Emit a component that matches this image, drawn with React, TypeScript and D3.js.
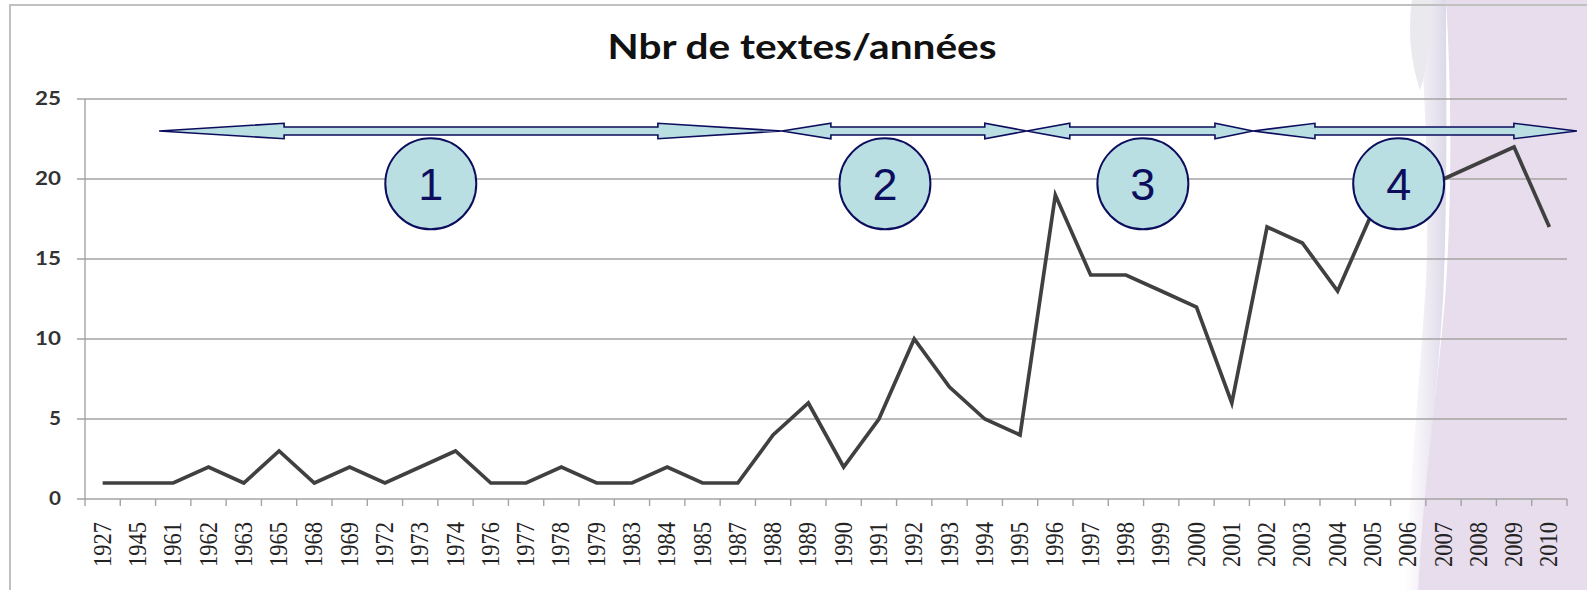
import React from 'react';
import { scaleBand, scaleLinear, line } from 'd3';

const years = [
	'1927', '1945', '1961', '1962', '1963', '1965', '1968', '1969', '1972', '1973',
	'1974', '1976', '1977', '1978', '1979', '1983', '1984', '1985', '1987', '1988',
	'1989', '1990', '1991', '1992', '1993', '1994', '1995', '1996', '1997', '1998',
	'1999', '2000', '2001', '2002', '2003', '2004', '2005', '2006', '2007', '2008',
	'2009', '2010',
];
const counts = [
	1, 1, 1, 2, 1, 3, 1, 2, 1, 2,
	3, 1, 1, 2, 1, 1, 2, 1, 1, 4,
	6, 2, 5, 10, 7, 5, 4, 19, 14, 14,
	13, 12, 6, 17, 16, 13, 18, 19, 20, 21,
	22, 17,
];
const yTicks = [0, 5, 10, 15, 20, 25];

// périodes annotées (en unités de catégorie)
const periodLabels = ['1', '2', '3', '4'];
const periodStart = [2.1, 19.75, 26.69, 33.1];
const periodEnd = [19.75, 26.69, 33.1, 42.28];
const badgeAt = [9.8, 22.67, 29.98, 37.23];
const arrowLevel = 23;
const badgeLevel = 19.7;

const W = 1587;
const H = 590;
const M = { left: 85, right: 20, top: 99, bottom: 91 };
const HEADS = [[125, 124], [49, 42], [43, 38], [62, 63]];
const NAVY = '#0d0d5e';
const BADGE = '#b9dfe3';

function arrowPath(x0: number, x1: number, yc: number, h0: number, h1: number) {
	const w = 7.7;
	const s = 4;
	return [
		`M${x0},${yc}`,
		`L${x0 + h0},${yc - w}`,
		`L${x0 + h0},${yc - s}`,
		`L${x1 - h1},${yc - s}`,
		`L${x1 - h1},${yc - w}`,
		`L${x1},${yc}`,
		`L${x1 - h1},${yc + w}`,
		`L${x1 - h1},${yc + s}`,
		`L${x0 + h0},${yc + s}`,
		`L${x0 + h0},${yc + w}`,
		'Z',
	].join(' ');
}

export default function App() {
	const x = scaleBand<string>().domain(years).range([M.left, W - M.right]).padding(0);
	const idx = scaleLinear().domain([0, years.length]).range([M.left, W - M.right]);
	const y = scaleLinear().domain([0, 25]).range([H - M.bottom, M.top]);
	const cx = (yr: string) => (x(yr) as number) + x.bandwidth() / 2;

	const pts = years.map((yr, i) => ({ yr, v: counts[i] }));
	const linePath = line<{ yr: string; v: number }>()
		.x((d) => cx(d.yr))
		.y((d) => y(d.v))(pts);

	const y0 = y(0);

	return (
		<div style={{ position: 'fixed', left: 0, top: 0, width: W, height: H, background: '#fff' }}>
			<svg width={W} height={H} style={{ display: 'block' }}>
				<defs>
					<linearGradient id="edge" x1="0" y1="0" x2="1" y2="0">
						<stop offset="0%" stopColor="#e7ddec" stopOpacity="0" />
						<stop offset="100%" stopColor="#dcd9e8" stopOpacity="1" />
					</linearGradient>
				</defs>
				{/* fond violet à droite */}
				<path
					d="M1418,0 L1446,0 C1446,90 1448,190 1443,300 C1436,410 1424,490 1418,590 L1404,590 C1410,480 1420,380 1426,280 C1430,180 1424,80 1418,0 Z"
					fill="url(#edge)"
				/>
				<path
					d="M1446,0 C1452,100 1452,200 1445,300 C1436,400 1424,480 1418,590 L1587,590 L1587,0 Z"
					fill="#e7ddec"
				/>
				<path
					d="M1412,0 C1408,30 1410,60 1420,90 C1428,70 1430,30 1432,0 Z"
					fill="#e9e9ee"
				/>
				<rect x={10} y={5} width={1600} height={620} fill="none" stroke="#c0c0c0" strokeWidth={2} />

				<text
					x={802}
					y={59}
					textAnchor="middle"
					fontFamily="Lato, 'Open Sans', sans-serif"
					fontWeight={700}
					fontSize={35}
					fill="#111"
					textLength={389}
					lengthAdjust="spacingAndGlyphs"
				>
					Nbr de textes/années
				</text>

				{/* grille */}
				{yTicks.map((t) => (
					<g key={t}>
						<line x1={M.left - 8} x2={W - M.right} y1={y(t)} y2={y(t)} stroke="#a3a3a3" strokeWidth={1.4} />
						<text
							x={61}
							y={y(t) + 6}
							textAnchor="end"
							fontFamily="Lato, sans-serif"
							fontWeight={700}
							fontSize={18}
							fill="#333"
							textLength={t >= 10 ? 26 : 12}
							lengthAdjust="spacingAndGlyphs"
						>
							{t}
						</text>
					</g>
				))}
				<line x1={M.left} x2={M.left} y1={y(25)} y2={y0} stroke="#a3a3a3" strokeWidth={1.4} />
				{tickIndexes(years.length).map((i) => (
					<line key={i} x1={idx(i)} x2={idx(i)} y1={y0} y2={y0 + 7} stroke="#a3a3a3" strokeWidth={1.4} />
				))}
				{years.map((yr) => (
					<text
						key={yr}
						transform={`translate(${cx(yr) + 8},${522}) rotate(-90)`}
						textAnchor="end"
						fontFamily="'Liberation Serif', 'DejaVu Serif', serif"
						fontSize={25}
						fill="#222"
						textLength={45}
						lengthAdjust="spacingAndGlyphs"
					>
						{yr}
					</text>
				))}

				<path d={linePath || ''} fill="none" stroke="#404040" strokeWidth={3.7} strokeLinejoin="miter" />

				{/* flèches des périodes */}
				{periodLabels.map((p, i) => (
					<path
						key={`a${p}`}
						d={arrowPath(idx(periodStart[i]), idx(periodEnd[i]), y(arrowLevel), HEADS[i][0], HEADS[i][1])}
						fill={BADGE}
						stroke={NAVY}
						strokeWidth={1.6}
						strokeLinejoin="miter"
					/>
				))}
				{periodLabels.map((p, i) => (
					<g key={`b${p}`} transform={`translate(${idx(badgeAt[i])},${y(badgeLevel)})`}>
						<circle r={45.5} fill={BADGE} stroke={NAVY} strokeWidth={2} />
						<text
							y={16}
							textAnchor="middle"
							fontFamily="'Liberation Sans', Arial, sans-serif"
							fontSize={45}
							fill={NAVY}
						>
							{p}
						</text>
					</g>
				))}
			</svg>
		</div>
	);
}

function tickIndexes(n: number) {
	return Array.from({ length: n + 1 }, (_, i) => i);
}
